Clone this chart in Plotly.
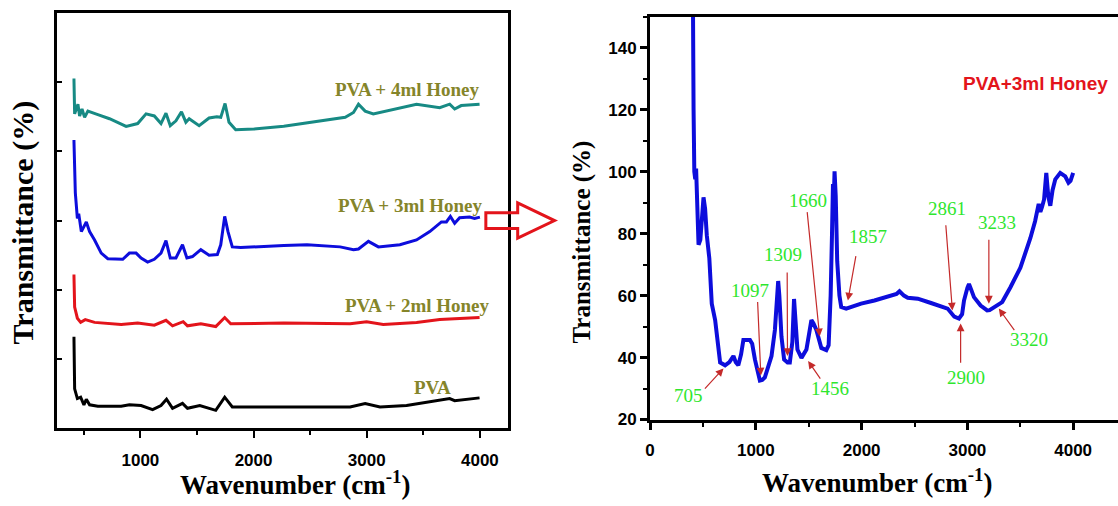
import plotly.graph_objects as go

W, H = 1118, 506

# ---------------- Left panel: stacked spectra (arbitrary offset units) ----------------
pva_wn = [400, 413, 419, 443, 472, 501, 522, 551, 624, 830, 903, 1006, 1108, 1182, 1231, 1284,
          1372, 1416, 1525, 1666, 1745, 1812, 2267, 2853, 2986, 3117, 3352, 3587, 3733, 3777, 3997]
pva_t = [1.30, 1.30, 0.57, 0.43, 0.45, 0.34, 0.42, 0.34, 0.32, 0.32, 0.34, 0.33, 0.27, 0.33, 0.42, 0.29,
         0.36, 0.29, 0.33, 0.26, 0.45, 0.31, 0.31, 0.31, 0.36, 0.31, 0.33, 0.39, 0.43, 0.40, 0.44]

h2_wn = [400, 413, 419, 443, 472, 513, 595, 830, 976, 1123, 1226, 1284, 1378, 1416, 1534, 1666,
         1745, 1798, 2267, 2853, 2999, 3146, 3440, 3645, 3997]
h2_t = [2.20, 2.20, 1.75, 1.59, 1.53, 1.57, 1.53, 1.50, 1.52, 1.49, 1.56, 1.48, 1.54, 1.48, 1.51, 1.47,
        1.60, 1.51, 1.52, 1.51, 1.54, 1.50, 1.53, 1.57, 1.60]

h3_wn = [400, 413, 425, 443, 455, 478, 522, 551, 595, 654, 712, 800, 844, 903, 962, 1006, 1064, 1123,
         1182, 1226, 1264, 1314, 1372, 1411, 1460, 1534, 1607, 1680, 1710, 1745, 1774, 1812, 1886,
         2267, 2472, 2765, 2883, 2927, 3015, 3103, 3293, 3440, 3557, 3660, 3704, 3739, 3777, 3821,
         3909, 3953, 4000]
h3_t = [4.14, 4.14, 3.40, 3.03, 3.10, 2.84, 2.98, 2.84, 2.72, 2.53, 2.45, 2.45, 2.44, 2.53, 2.53, 2.46,
        2.40, 2.44, 2.53, 2.71, 2.46, 2.46, 2.65, 2.46, 2.48, 2.58, 2.50, 2.51, 2.65, 3.06, 2.84, 2.62,
        2.61, 2.64, 2.65, 2.62, 2.58, 2.59, 2.70, 2.62, 2.65, 2.72, 2.84, 2.98, 2.98, 3.06, 2.96, 3.04,
        3.05, 3.03, 3.05]

h4_wn = [400, 413, 419, 448, 463, 484, 507, 536, 624, 727, 874, 976, 1050, 1123, 1182, 1226, 1264,
         1314, 1363, 1402, 1431, 1519, 1607, 1675, 1710, 1748, 1783, 1842, 2003, 2267, 2810, 2883,
         2927, 2986, 3058, 3206, 3440, 3645, 3733, 3777, 3835, 3997]
h4_t = [5.03, 5.03, 4.54, 4.68, 4.51, 4.61, 4.49, 4.58, 4.53, 4.47, 4.36, 4.40, 4.54, 4.51, 4.40, 4.55,
        4.37, 4.44, 4.57, 4.42, 4.47, 4.37, 4.48, 4.50, 4.49, 4.69, 4.42, 4.31, 4.32, 4.36, 4.49, 4.56,
        4.68, 4.58, 4.54, 4.59, 4.68, 4.63, 4.68, 4.61, 4.66, 4.68]

left_labels = ["PVA + 4ml Honey", "PVA + 3ml Honey", "PVA + 2ml Honey", "PVA"]

# ---------------- Right panel: PVA + 3ml Honey (%T) ----------------
r_wn = [400, 403, 411, 418, 427, 435, 446, 458, 475, 492, 505, 520, 536, 560, 583, 615, 640, 662, 709,
        750, 788, 810, 834, 860, 882, 944, 965, 991, 1038, 1060, 1085, 1120, 1148, 1180, 1200, 1211,
        1222, 1242, 1267, 1300, 1321, 1345, 1361, 1375, 1393, 1431, 1478, 1500, 1525, 1545, 1572,
        1619, 1666, 1688, 1707, 1720, 1729, 1736, 1744, 1755, 1769, 1790, 1807, 1854, 1995, 2121,
        2247, 2330, 2358, 2400, 2436, 2531, 2656, 2813, 2876, 2920, 2950, 2968, 3000, 3015, 3035,
        3062, 3125, 3187, 3210, 3250, 3329, 3407, 3501, 3595, 3640, 3674, 3690, 3705, 3725, 3746,
        3765, 3784, 3805, 3831, 3878, 3925, 3956, 3975, 4000]
r_t = [185, 150, 120, 100, 97.5, 101, 90, 76.4, 78, 86, 91.7, 88, 79.5, 72, 57.4, 52.1, 45, 38.4, 37.5,
       38.5, 40.5, 38.5, 37.5, 41, 45.7, 45.7, 44.5, 39.4, 32.6, 32.8, 33.6, 37, 40.5, 48.9, 58, 64.7,
       60, 46.8, 39.4, 38.4, 38.4, 45, 58.9, 52, 42.6, 39.9, 42.6, 47, 52.1, 51, 48.9,
       43.1, 42.4, 44, 60, 80, 96, 90, 100.1, 92, 71.1, 60, 56.3, 55.8, 57.4, 58.4,
       59.5, 60.5, 61.4, 60, 59.3, 59.0, 57.6, 55.8, 53.2, 52.6, 54, 58.4, 62.5, 63.7, 62,
       59.5, 56.8, 55.2, 55.3, 56.3, 57.9, 62.7, 69.0, 78.5, 84, 89.6, 87, 88.5, 91, 99.6,
       92, 89.0, 94, 97.5, 99.6, 98.5, 96.4, 97, 99.6]

peak_labels = ["705", "1097", "1309", "1456", "1660", "1857", "2861", "2900", "3233", "3320"]
# (text x, text y, arrow tail x, tail y, arrow head x, head y) in data units of right panel
peak_place = [
    (364, 27.8, 505, 29.5, 694, 36.5),
    (944, 61.6, 1016, 58.4, 1047, 34.2),
    (1258, 73.2, 1296, 67.9, 1299, 40.5),
    (1697, 29.9, 1619, 32.7, 1494, 38.9),
    (1494, 90.6, 1484, 87.4, 1603, 46.8),
    (2058, 79.0, 1948, 73.2, 1870, 58.4),
    (2811, 88.0, 2795, 83.2, 2858, 55.2),
    (2984, 33.6, 2936, 37.8, 2936, 51.0),
    (3282, 83.7, 3203, 78.5, 3203, 57.4),
    (3579, 45.7, 3454, 48.4, 3297, 55.8),
]

def px(x):
    return x / W

def py(y):
    return 1 - y / H

fig = go.Figure()

serif = "Liberation Serif"
sans = "Liberation Sans"
olive = "#85852a"

for wn, t, col in [(pva_wn, pva_t, "#000000"), (h2_wn, h2_t, "#e3141b"),
                   (h3_wn, h3_t, "#0d0ddc"), (h4_wn, h4_t, "#178a84")]:
    fig.add_trace(go.Scatter(x=wn, y=t, mode="lines", line=dict(color=col, width=3),
                             xaxis="x", yaxis="y", showlegend=False, hoverinfo="skip"))

fig.add_trace(go.Scatter(x=r_wn, y=r_t, mode="lines", line=dict(color="#0d0ddc", width=4),
                         xaxis="x2", yaxis="y2", showlegend=False, hoverinfo="skip"))

tickfont_l = dict(family=sans, size=17, color="black", weight="bold")
tickfont_r = dict(family=sans, size=17, color="black", weight="bold")

fig.update_layout(
    width=W, height=H, margin=dict(l=0, r=0, t=0, b=0),
    paper_bgcolor="white", plot_bgcolor="white",
    xaxis=dict(domain=[px(52), px(505)], range=[261, 4246], tick0=0, dtick=1000,
               ticks="outside", ticklen=7, tickwidth=2, tickcolor="black",
               minor=dict(dtick=500, ticks="outside", ticklen=4, tickwidth=2, tickcolor="black"),
               showline=True, linewidth=2.5, linecolor="black", mirror=True,
               showgrid=False, zeroline=False, tickfont=tickfont_l, anchor="y",
               ticklabelstandoff=7),
    yaxis=dict(domain=[py(437), py(13)], range=[0, 6], tickvals=[1, 2, 3, 4, 5],
               ticks="inside", ticklen=5, tickwidth=1.5, tickcolor="black",
               showticklabels=False, showline=True, linewidth=2.5, linecolor="black", mirror=True,
               showgrid=False, zeroline=False, anchor="x"),
    xaxis2=dict(domain=[px(648), 1.0], range=[0, 4424], tick0=0, dtick=1000,
                ticks="outside", ticklen=7, tickwidth=2.5, tickcolor="black",
                minor=dict(dtick=500, ticks="outside", ticklen=4, tickwidth=2, tickcolor="black"),
                showline=True, linewidth=3, linecolor="black", mirror=True,
                showgrid=False, zeroline=False, tickfont=tickfont_r, anchor="y2",
                ticklabelstandoff=6),
    yaxis2=dict(domain=[py(428), py(17)], range=[20, 150], tick0=20, dtick=20,
                ticks="outside", ticklen=7, tickwidth=2.5, tickcolor="black",
                minor=dict(dtick=10, ticks="outside", ticklen=4, tickwidth=2, tickcolor="black"),
                showline=True, linewidth=3, linecolor="black", mirror=False,
                showgrid=False, zeroline=False, tickfont=tickfont_r, anchor="x2"),
)

annotations = []
# left panel sample labels
left_pos = [(3358, 4.89), (3384, 3.22), (3450, 1.77), (3578, 0.59)]
for lab, (x, y) in zip(left_labels, left_pos):
    annotations.append(dict(x=x, y=y, xref="x", yref="y", text=lab, showarrow=False,
                            xanchor="center", yanchor="middle",
                            font=dict(family=serif, size=19, color=olive, weight="bold")))

# right panel peak labels and arrows
for lab, (tx, ty, ax, ay, hx, hy) in zip(peak_labels, peak_place):
    annotations.append(dict(x=tx, y=ty, xref="x2", yref="y2", text=lab, showarrow=False,
                            xanchor="center", yanchor="middle",
                            font=dict(family=serif, size=19, color="#2ee62e")))
    annotations.append(dict(x=hx, y=hy, xref="x2", yref="y2", ax=ax, ay=ay,
                            axref="x2", ayref="y2", text="", showarrow=True,
                            arrowhead=2, arrowsize=1.3, arrowwidth=1.2, arrowcolor="#c42a2a"))

annotations.append(dict(x=3642, y=128.3, xref="x2", yref="y2", text="PVA+3ml Honey",
                        showarrow=False, xanchor="center", yanchor="middle",
                        font=dict(family=sans, size=19, color="#e3141b", weight="bold")))

# axis titles
title_font_x = dict(family=serif, size=27, color="black", weight="bold")
annotations += [
    dict(x=px(291), y=py(493), xref="paper", yref="paper", showarrow=False,
         xanchor="center", yanchor="middle",
         text="Wavenumber (cm<sup>-1</sup>)", font=title_font_x),
    dict(x=px(876), y=py(491), xref="paper", yref="paper", showarrow=False,
         xanchor="center", yanchor="middle",
         text="Wavenumber (cm<sup>-1</sup>)", font=title_font_x),
    dict(x=px(18), y=py(227), xref="paper", yref="paper", showarrow=False, textangle=-90,
         xanchor="center", yanchor="middle",
         text="Transmittance (%)",
         font=dict(family=serif, size=30, color="black", weight="bold")),
    dict(x=px(580), y=py(247), xref="paper", yref="paper", showarrow=False, textangle=-90,
         xanchor="center", yanchor="middle",
         text="Transmittance (%)",
         font=dict(family=serif, size=25, color="black", weight="bold")),
]
fig.update_layout(annotations=annotations)

# hollow arrow connecting the panels
pts = [(483, 217), (515, 217), (515, 207), (552, 225), (515, 243), (515, 233), (483, 233)]
path = "M " + " L ".join(f"{px(x):.5f},{py(y):.5f}" for x, y in pts) + " Z"
fig.add_shape(type="path", path=path, xref="paper", yref="paper",
              line=dict(color="#e3141b", width=3), fillcolor="rgba(0,0,0,0)")

fig.write_html("out.html")
